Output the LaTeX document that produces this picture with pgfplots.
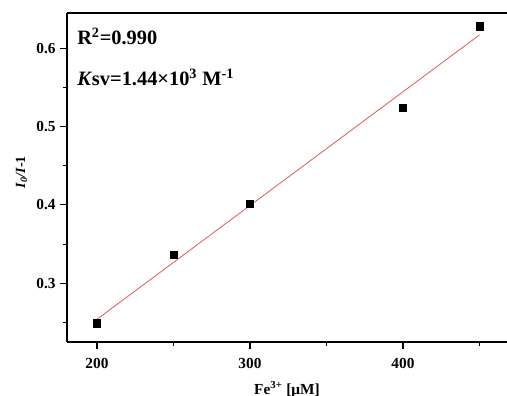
\documentclass[border=0pt]{standalone}
\usepackage{pgfplots}
\pgfplotsset{compat=1.18}
\usepackage{fontspec}
\setmainfont{Liberation Serif}
\definecolor{fitred}{RGB}{222,90,90}
\begin{document}
\begin{tikzpicture}
\useasboundingbox (0,0) rectangle (380.25pt,297pt);
\clip (0,0) rectangle (380.25pt,297pt);
\begin{axis}[
  at={(50.25pt,40.5pt)}, anchor=south west,
  scale only axis, width=330pt, height=246.75pt,
  xmin=180.4, xmax=468, ymin=0.225, ymax=0.645,
  axis lines=left, axis line style={line width=1pt, -},
  xtick={200,300,400}, minor xtick={250,350,450},
  ytick={0.3,0.4,0.5,0.6}, minor ytick={0.25,0.35,0.45,0.55},
  tick align=outside, major tick length=5pt, minor tick length=3pt,
  every tick/.style={black, line width=0.8pt},
  /pgf/number format/assume math mode=true,
  /pgf/number format/fixed, /pgf/number format/precision=1,
  ticklabel style={font=\fontsize{11.5}{13}\selectfont\bfseries},
  xticklabel style={yshift=-3.5pt},
  xlabel={\bfseries Fe\textsuperscript{3+} [μM]},
  ylabel={{\bfseries\itshape I\textsubscript{0}/I}\bfseries -1},
  xlabel style={font=\fontsize{11.5}{13}\selectfont, yshift=-3pt},
  ylabel style={font=\fontsize{10.5}{12}\selectfont, xshift=4pt},
  clip=false,
]
\addplot[fitred, line width=0.6pt] coordinates {(200,0.254) (450,0.617)};
\addplot[only marks, mark=square*, mark size=2.7pt, black] coordinates {
  (200,0.249) (250,0.336) (300,0.401) (400,0.524) (450,0.628)};
\draw[line width=1pt] (rel axis cs:0,1) -- (rel axis cs:1,1);
\node[anchor=base west, inner sep=0pt, font=\fontsize{15.3}{17}\selectfont\bfseries] at (rel axis cs:0.0227,0.903) {R\textsuperscript{2}=0.990};
\node[anchor=base west, inner sep=0pt, font=\fontsize{15.3}{17}\selectfont\bfseries] at (rel axis cs:0.0227,0.781) {\textit{K}sv=1.44×10\textsuperscript{3} M\textsuperscript{-1}};
\end{axis}
\end{tikzpicture}
\end{document}
